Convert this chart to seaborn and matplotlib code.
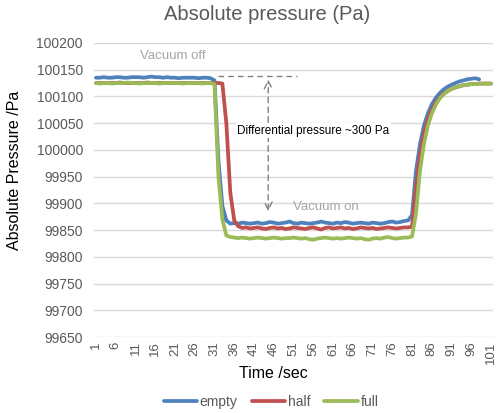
import numpy as np
import pandas as pd
import matplotlib
matplotlib.use("Agg")
import matplotlib.pyplot as plt
import seaborn as sns

time = list(range(1, 102))

empty = [100135, 100135, 100136, 100135, 100135, 100136, 100136, 100135, 100135, 100136,
         100136, 100136, 100135, 100136, 100137, 100136, 100136, 100135, 100136, 100135,
         100135, 100134, 100135, 100135, 100135, 100135, 100134, 100135, 100135, 100134,
         100130, 99980, 99895, 99868, 99862, 99863, 99862, 99864, 99863, 99862,
         99863, 99864, 99862, 99863, 99865, 99864, 99862, 99863, 99864, 99866,
         99863, 99862, 99864, 99863, 99862, 99863, 99864, 99866, 99864, 99863,
         99862, 99864, 99863, 99865, 99864, 99862, 99863, 99864, 99863, 99862,
         99864, 99863, 99862, 99863, 99865, 99866, 99864, 99865, 99867, 99868,
         99878, 99960, 100010, 100045, 100068, 100085, 100097, 100106, 100113, 100118,
         100122, 100125, 100128, 100130, 100132, 100133, 100134, 100132, None, None, None]

half = [100125, 100125, 100125, 100125, 100125, 100125, 100126, 100125, 100125, 100125,
        100125, 100125, 100125, 100126, 100125, 100125, 100125, 100125, 100125, 100125,
        100125, 100125, 100125, 100125, 100125, 100125, 100125, 100125, 100125, 100125,
        100125, 100125, 100124, 100050, 99920, 99868, 99857, 99854, 99855, 99853,
        99854, 99855, 99853, 99852, 99854, 99855, 99853, 99854, 99852, 99853,
        99855, 99854, 99853, 99852, 99854, 99855, 99853, 99851, 99854, 99855,
        99853, 99854, 99855, 99853, 99854, 99852, 99853, 99855, 99854, 99853,
        99854, 99852, 99853, 99854, 99855, 99854, 99853, 99854, 99855, 99855,
        99856, 99930, 99990, 100030, 100057, 100075, 100088, 100098, 100105, 100110,
        100114, 100117, 100119, 100121, 100122, 100123, 100123, 100124, 100124, 100124, 100124]

full = [100125, 100124, 100125, 100125, 100124, 100125, 100125, 100125, 100126, 100125,
        100125, 100124, 100125, 100125, 100125, 100125, 100124, 100125, 100125, 100125,
        100125, 100125, 100124, 100125, 100125, 100125, 100125, 100124, 100125, 100125,
        100123, 99950, 99870, 99840, 99837, 99836, 99835, 99836, 99835, 99834,
        99835, 99836, 99835, 99834, 99835, 99836, 99835, 99834, 99835, 99835,
        99836, 99835, 99834, 99835, 99833, 99832, 99834, 99835, 99836, 99835,
        99834, 99835, 99834, 99835, 99836, 99835, 99834, 99835, 99833, 99832,
        99834, 99835, 99834, 99836, 99837, 99835, 99834, 99835, 99836, 99836,
        99838, 99880, 99960, 100010, 100045, 100068, 100084, 100096, 100104, 100110,
        100114, 100117, 100119, 100121, 100122, 100123, 100123, 100124, 100124, 100124, 100124]

series_names = ["empty", "half", "full"]
colors = ["#4F81BD", "#C0504D", "#9BBB59"]
yticks = list(range(99650, 100201, 50))
xticks = list(range(1, 102, 5))

df = pd.DataFrame({"time": time, "empty": empty, "half": half, "full": full})
long = df.melt(id_vars="time", var_name="series", value_name="pressure").dropna()

sns.set_style("white")
plt.rcParams["font.family"] = ["Liberation Sans", "DejaVu Sans"]

fig = plt.figure(figsize=(5.0, 4.13), dpi=100)
ax = fig.add_axes([0.188, 0.184, 0.798, 0.712])

sns.lineplot(data=long, x="time", y="pressure", hue="series", hue_order=series_names,
             palette=colors, linewidth=2.7, ax=ax, zorder=3)

ax.set_xlim(0.5, 101.5)
ax.set_ylim(99650, 100200)
ax.set_yticks(yticks)
ax.set_yticklabels([str(v) for v in yticks])
ax.set_xticks(xticks)
ax.set_xticklabels([str(v) for v in xticks], rotation=90)
ax.tick_params(axis="y", labelsize=10, colors="#595959", length=0, pad=8)
ax.tick_params(axis="x", labelsize=9.5, colors="#595959", length=0, pad=3)
ax.grid(axis="y", color="#D9D9D9", linewidth=1)
ax.grid(axis="x", visible=False)
for s in ax.spines.values():
    s.set_visible(False)

ax.set_xlabel("Time /sec", fontsize=11.5, color="black")
ax.xaxis.set_label_coords(0.45, -0.097)
ax.set_ylabel("Absolute Pressure /Pa", fontsize=11.5, color="black")
ax.yaxis.set_label_coords(-0.18, 0.565)
fig.text(0.534, 1 - 14 / 413, "Absolute pressure (Pa)", fontsize=14.5, color="#595959",
         ha="center", va="center")

# annotations
ax.plot([32, 52], [100138, 100138], ls=(0, (4, 3)), color="#808080", lw=1, zorder=4)
ax.annotate("", xy=(44.6, 100137), xytext=(44.6, 99880),
            arrowprops=dict(arrowstyle="<->", ls=(0, (4, 3)), color="#808080", lw=1,
                            mutation_scale=14), zorder=4)
ax.text(36.8, 100036, "Differential pressure ~300 Pa", fontsize=8.5, color="black",
        va="center", ha="left", zorder=5,
        bbox=dict(facecolor="white", edgecolor="none", pad=1))
ax.text(12.2, 100175, "Vacuum off", fontsize=9.5, color="#A6A6A6", va="center", ha="left")
ax.text(50.9, 99893, "Vacuum on", fontsize=9.5, color="#A6A6A6", va="center", ha="left")

handles, labels = ax.get_legend_handles_labels()
ax.get_legend().remove()
fig.legend(handles, labels, loc="center", bbox_to_anchor=(0.542, 0.027), ncol=3,
           frameon=False, fontsize=10, handlelength=2.4, columnspacing=1.0,
           handletextpad=0.2, labelcolor="#595959", borderpad=0.1)

fig.savefig("out.png", dpi=100)
